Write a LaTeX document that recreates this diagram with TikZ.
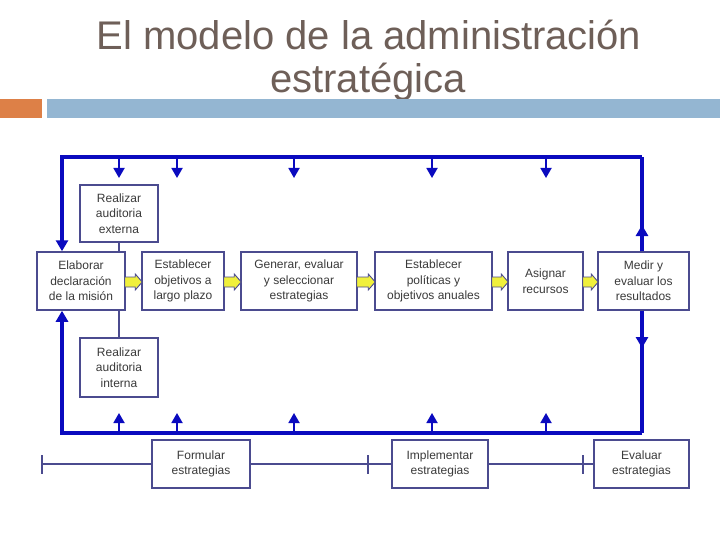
\documentclass[tikz,border=0pt]{standalone}
\usepackage{fontspec}
\setmainfont{Liberation Sans}
\usetikzlibrary{arrows.meta,calc}
\definecolor{titlec}{HTML}{6E5F58}
\definecolor{orangec}{HTML}{DD8047}
\definecolor{barblue}{HTML}{94B6D2}
\definecolor{loopblue}{HTML}{0A0ABF}
\definecolor{boxc}{HTML}{4B4B8F}
\definecolor{txtc}{HTML}{3A3A3A}
\definecolor{yel}{HTML}{F0F03C}
\tikzset{
  box/.style={draw=boxc, line width=1.5pt, fill=white, inner sep=1pt, align=center,
    text=txtc, font=\fontsize{12}{15.5}\selectfont},
  bigline/.style={draw=loopblue, line width=3.5pt},
  bigtip/.style={-{Triangle[width=12pt,length=11pt]}},
  smallarrow/.style={draw=loopblue, line width=1.8pt, -{Triangle[width=11pt,length=10pt]}},
  tline/.style={draw=boxc, line width=1.2pt},
  yarrowp/.style={draw=boxc, fill=yel, line width=0.9pt, line join=miter},
  titlestyle/.style={text=titlec, font=\fontsize{40}{46}\selectfont, anchor=base, inner sep=0pt}
}
\newcommand\ydarrow[2]{%
  \draw[yarrowp] ($(#1.east)+(-1,-4)$) -- ($(#2.west)+(-6,-4)$) -- ($(#2.west)+(-6,-7)$)
    -- ($(#2.west)+(1,1)$) -- ($(#2.west)+(-6,9)$) -- ($(#2.west)+(-6,6)$)
    -- ($(#1.east)+(-1,6)$) -- cycle;}
\begin{document}
\begin{tikzpicture}[x=1pt,y=-1pt]
\useasboundingbox (0,0) rectangle (720,540);
\fill[white] (0,0) rectangle (720,540);
% title
\node[titlestyle] (title1) at (369,50) {El modelo de la administración};
\node[titlestyle] (title2) at (368,93) {estratégica};
\fill[orangec] (0,99) rectangle (42,118);
\fill[barblue] (47,99) rectangle (720,118);
% boxes
\node[box, minimum width=78pt, minimum height=57pt] (ext) at (119,213.5) {Realizar\\auditoria\\externa};
\node[box, minimum width=78pt, minimum height=59pt] (int) at (119,367.5) {Realizar\\auditoria\\interna};
\draw[tline] (ext.south) -- (ext.south |- 0,252);
\draw[tline] (int.north) -- (int.north |- 0,310);
\node[box, minimum width=88pt, minimum height=58pt] (mis) at (81,281) {Elaborar\\declaración\\de la misión};
\node[box, minimum width=82pt, minimum height=58pt] (obj) at (183,281) {Establecer\\objetivos a\\largo plazo};
\node[box, minimum width=116pt, minimum height=58pt] (gen) at (299,281) {Generar, evaluar\\y seleccionar\\estrategias};
\node[box, minimum width=117pt, minimum height=58pt] (pol) at (433.5,281) {Establecer\\políticas y\\objetivos anuales};
\node[box, minimum width=75pt, minimum height=58pt] (rec) at (545.5,281) {Asignar\\recursos};
\node[box, minimum width=91pt, minimum height=58pt] (med) at (643.5,281) {Medir y\\evaluar los\\resultados};
% yellow arrows
\ydarrow{mis}{obj}
\ydarrow{obj}{gen}
\ydarrow{gen}{pol}
\ydarrow{pol}{rec}
\ydarrow{rec}{med}
% feedback loop
\coordinate (tl) at (62,157);
\coordinate (tr) at (642,157);
\coordinate (bl) at (62,433);
\coordinate (br) at (642,433);
\draw[bigline, bigtip] (tr) -- (tl) -- (tl |- mis.north);
\draw[bigline, bigtip] (br) -- (bl) -- (bl |- mis.south);
\draw[bigline] (tr |- med.north) -- (tr);
\draw[bigline, bigtip] (tr |- med.north) -- (642,225);
\draw[bigline] (tr |- med.south) -- (br);
\draw[bigline, bigtip] (tr |- med.south) -- (642,348);
\foreach \x in {119,177,294,432,546} {
  \draw[smallarrow] (\x,157) -- (\x,178);
  \draw[smallarrow] (\x,432) -- (\x,413);
}
% bottom timeline
\node[box, minimum width=98pt, minimum height=48pt] (form) at (201,464) {Formular\\estrategias};
\node[box, minimum width=96pt, minimum height=48pt] (impl) at (440,464) {Implementar\\estrategias};
\node[box, minimum width=95pt, minimum height=48pt] (eva) at (641.5,464) {Evaluar\\estrategias};
\coordinate (t0) at (42,464);
\draw[tline] (t0) -- (form.west);
\draw[tline] (form.east) -- (impl.west);
\draw[tline] (impl.east) -- (eva.west);
\foreach \x in {42,368,583} {
  \draw[tline, line width=1.6pt] (\x,455) -- (\x,474);
}
\end{tikzpicture}
\end{document}
